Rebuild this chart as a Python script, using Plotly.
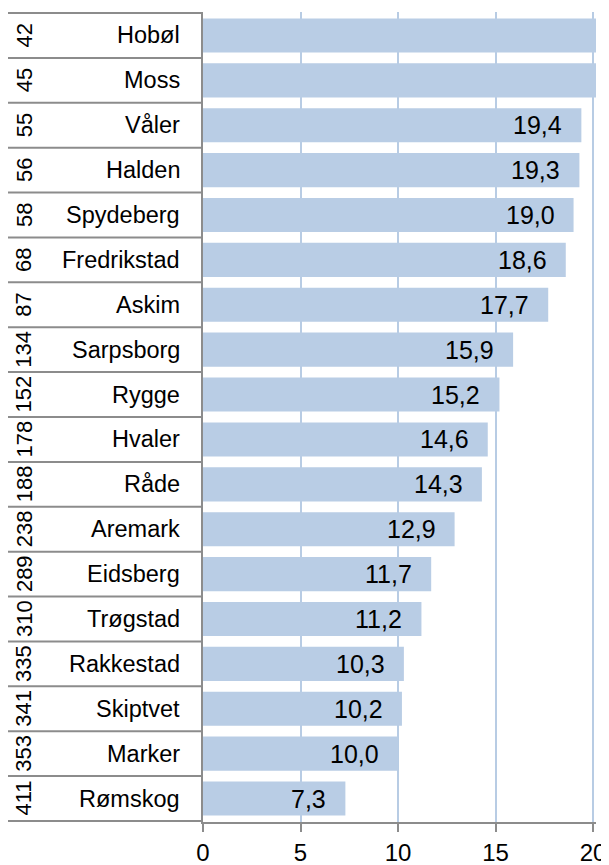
import plotly.graph_objects as go

# kommuner, rangering og verdier (lest av figuren)
names = ["Hobøl", "Moss", "Våler", "Halden", "Spydeberg", "Fredrikstad", "Askim",
         "Sarpsborg", "Rygge", "Hvaler", "Råde", "Aremark", "Eidsberg", "Trøgstad",
         "Rakkestad", "Skiptvet", "Marker", "Rømskog"]
ranks = [42, 45, 55, 56, 58, 68, 87, 134, 152, 178, 188, 238, 289, 310, 335, 341, 353, 411]
values = [20.6, 20.3, 19.4, 19.3, 19.0, 18.6, 17.7, 15.9, 15.2, 14.6, 14.3, 12.9,
          11.7, 11.2, 10.3, 10.2, 10.0, 7.3]
x_max = 20

# the page has an 8px body margin, so the figure is drawn 8px in and down
W, H = 601, 857
ml, mr, mt, mb = 195, 13, 4, 43
plot_w = W - ml - mr

def px(x):
    # pixel offset from the plot's left edge -> paper fraction
    return x / plot_w

FONT = "Liberation Sans, Arial, sans-serif"
GRAY = "#8c8c8c"

fig = go.Figure()
fig.add_trace(go.Bar(
    y=names, x=values, orientation="h",
    marker=dict(color="#b9cde5", line=dict(width=0)),
    hoverinfo="skip",
))

annotations = []
for name, rank, v in zip(names, ranks, values):
    annotations.append(dict(
        x=px(-21), y=name, xref="paper", yref="y", text=name, showarrow=False,
        xanchor="right", yanchor="middle", font=dict(size=23.5, color="black", family=FONT),
    ))
    annotations.append(dict(
        x=px(-179), y=name, xref="paper", yref="y", text=str(rank), showarrow=False,
        textangle=-90, xanchor="center", yanchor="middle",
        font=dict(size=22, color="black", family=FONT),
    ))
    if v <= x_max:
        annotations.append(dict(
            x=v, y=name, xref="x", yref="y", text=f"{v:.1f}".replace(".", ","),
            showarrow=False, xanchor="right", yanchor="middle", xshift=-17,
            font=dict(size=25, color="black", family=FONT),
        ))

shapes = []
for i in range(len(names) + 1):
    shapes.append(dict(
        type="line", xref="paper", yref="y", x0=px(-195), x1=0,
        y0=i - 0.5, y1=i - 0.5, line=dict(color=GRAY, width=2), layer="above",
    ))

fig.update_layout(
    width=W, height=H,
    margin=dict(l=ml, r=mr, t=mt, b=mb, autoexpand=False),
    plot_bgcolor="white", paper_bgcolor="white",
    bargap=0.24, showlegend=False,
    annotations=annotations, shapes=shapes,
    font=dict(family=FONT, color="black"),
    xaxis=dict(
        range=[0, 20.15], tickvals=[0, 5, 10, 15, 20], automargin=False,
        showgrid=True, gridcolor="#b8cce4", gridwidth=1.5, zeroline=False,
        showline=True, linecolor=GRAY, linewidth=2,
        ticks="outside", ticklen=8, tickcolor=GRAY, tickwidth=1.5,
        tickfont=dict(size=24, color="black"),
    ),
    yaxis=dict(
        autorange="reversed", showticklabels=False, showgrid=False, zeroline=False,
        showline=True, linecolor=GRAY, linewidth=2, ticks="", automargin=False,
    ),
)

fig.write_html("out.html")
